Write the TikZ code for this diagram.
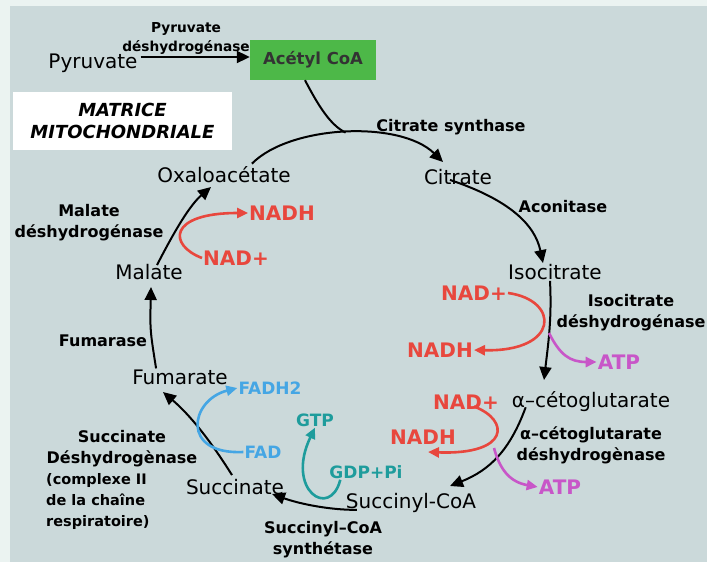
\documentclass[tikz,border=0pt]{standalone}
\usepackage{fontspec}
\setmainfont{DejaVu Sans}
\usetikzlibrary{arrows.meta}
\definecolor{cadre}{HTML}{EBF3F1}
\definecolor{fond}{HTML}{CBD9DA}
\definecolor{vert}{HTML}{4DB848}
\definecolor{rouge}{HTML}{E8473D}
\definecolor{mauve}{HTML}{C856C8}
\definecolor{sarcelle}{HTML}{1E9C9C}
\definecolor{bleu}{HTML}{45A6E4}

\begin{document}
\begin{tikzpicture}[x=1pt,y=-1pt,
    metab/.style={font=\fontsize{20}{22}\selectfont,inner sep=1pt},
    enz/.style={font=\bfseries\fontsize{16}{21}\selectfont,align=center,inner sep=1pt},
    cofac/.style={font=\bfseries\fontsize{20}{22}\selectfont,inner sep=1pt},
    cofacp/.style={font=\bfseries\fontsize{17}{19}\selectfont,inner sep=1pt},
    fl/.style={-{Triangle[length=13pt,width=12pt]},line width=2pt},
    flc/.style={-{Triangle[length=11pt,width=10pt]},line width=2.6pt}]
       	\useasboundingbox (0,0) rectangle (707,562);
       	\fill[cadre] (0,0) rectangle (707,562);
       	\fill[fond] (10,6) rectangle (707,562);
       	
       	% entree dans le cycle
       	\node[metab] (pyr) at (93,63) {Pyruvate};
       	\node[enz,font=\bfseries\fontsize{13.7}{19}\selectfont] (pdh) at (186,38) {Pyruvate\\déshydrogénase};
       	\node[fill=vert,minimum width=126pt,minimum height=40pt,font=\bfseries\fontsize{16.5}{18}\selectfont,text=black!80] (acoa) at (313,60) {Acétyl CoA};
       	\draw[fl] (pyr.east) ++(2,-6) coordinate (p0) -- (p0 -| acoa.west);
       	\node[fill=white,minimum width=219pt,minimum height=58pt,align=center,font=\bfseries\itshape\fontsize{18}{22}\selectfont] (matrice) at (122.5,121) {MATRICE\\MITOCHONDRIALE};
       	
       	% metabolites
       	\node[metab] (oxalo) at (224,175) {Oxaloacétate};
       	\node[metab] (cit) at (458,177) {Citrate};
       	\node[metab] (iso) at (555,272) {Isocitrate};
       	\node[metab] (akg) at (591,402) {α–cétoglutarate};
       	\node[metab] (scoa) at (411,503) {Succinyl-CoA};
       	\node[metab] (succ) at (235,487) {Succinate};
       	\node[metab] (fum) at (180,377) {Fumarate};
       	\node[metab] (mal) at (149,272) {Malate};
       	
       	% enzymes
       	\node[enz] (cs) at (451,127) {Citrate synthase};
       	\node[enz] (acon) at (563,207) {Aconitase};
       	\node[enz] (idh) at (631,313) {Isocitrate\\déshydrogénase};
       	\node[enz] (kgdh) at (591,445) {α–cétoglutarate\\déshydrogènase};
       	\node[enz] (scs) at (323,540) {Succinyl–CoA\\synthétase};
       	\node[enz] (sdh) at (122,449) {Succinate\\Déshydrogènase};
       	\node[enz,align=left,anchor=north west,font=\bfseries\fontsize{14.5}{21}\selectfont] (sdhn) at (45,472) {(complexe II\\de la chaîne\\respiratoire)};
       	\node[enz] (fumase) at (103,341) {Fumarase};
       	\node[enz] (mdh) at (89,223) {Malate\\déshydrogénase};
       	
       	% cycle
       	\draw[fl] (oxalo.north east) ++(-40,-2) .. controls (290,125) and (400,120) .. (443,162) coordinate[pos=0.5] (jonc);
       	\draw[line width=2pt] ([xshift=-8pt]acoa.south) .. controls (318,105) and (330,125) .. (jonc);
       	\draw[fl] (cit.south) ++(-8,-6) .. controls (510,200) and (535,225) .. (iso.north -| 543,0);
       	\draw[fl] (iso.south) ++(-5,0) .. controls (552,320) and (548,345) .. (544,380);
       	\draw[fl] (akg.south west) ++(15,-6) .. controls (510,450) and (490,470) .. (450,486);
       	\draw[fl] (scoa.south west) ++(12,-4) .. controls (330,510) and (300,504) .. (272,494);
       	\draw[fl] (succ.north) ++(-3,-3) .. controls (210,440) and (190,415) .. (163,392);
       	\draw[fl] (fum.north west) ++(25,0) .. controls (150,330) .. (151,287);
       	\draw[fl] (mal.north) ++(8,2) .. controls (175,230) and (190,205) .. (211,187);
       	
       	% cofacteurs
       	\node[cofac,text=rouge] (nadm) at (236,258) {NAD+};
       	\node[cofac,text=rouge] (nadhm) at (282,213) {NADH};
       	\draw[flc,rouge] (nadm.west) .. controls (168,245) and (168,213) .. (nadhm.west);
       	
       	\node[cofac,text=rouge] (nadi) at (474,293) {NAD+};
       	\node[cofac,text=rouge] (nadhi) at (440,350) {NADH};
       	\node[cofac,text=mauve] (atpi) at (619,362) {ATP};
       	\draw[flc,rouge] (nadi.east) .. controls (560,300) and (560,352) .. (nadhi.east);
       	\draw[flc,mauve] (549,333) .. controls (560,355) and (570,362) .. (atpi.west);
       	
       	\node[cofac,text=rouge] (nadk) at (466,402) {NAD+};
       	\node[cofac,text=rouge] (nadhk) at (423,437) {NADH};
       	\draw[flc,rouge] (nadk.south) ++(8,-4) .. controls (510,420) and (510,455) .. (428,452);
       	\node[cofac,text=mauve] (atpk) at (560,487) {ATP};
       	\draw[flc,mauve] (494,448) .. controls (500,470) and (510,482) .. (atpk.west);
       	
       	\node[cofacp,text=sarcelle] (gdp) at (366,472) {GDP+Pi};
       	\node[cofacp,text=sarcelle] (gtp) at (315,420) {GTP};
       	\draw[flc,sarcelle] (gdp.south west) ++(12,0) .. controls (330,520) and (285,490) .. (gtp.south);
       	
       	\node[cofacp,text=bleu] (fad) at (263,452) {FAD};
       	\node[cofacp,text=bleu] (fadh) at (270,388) {FADH2};
       	\draw[flc,bleu] (fad.west) .. controls (180,455) and (190,400) .. (fadh.west);
       	\end{tikzpicture}
\end{document}
